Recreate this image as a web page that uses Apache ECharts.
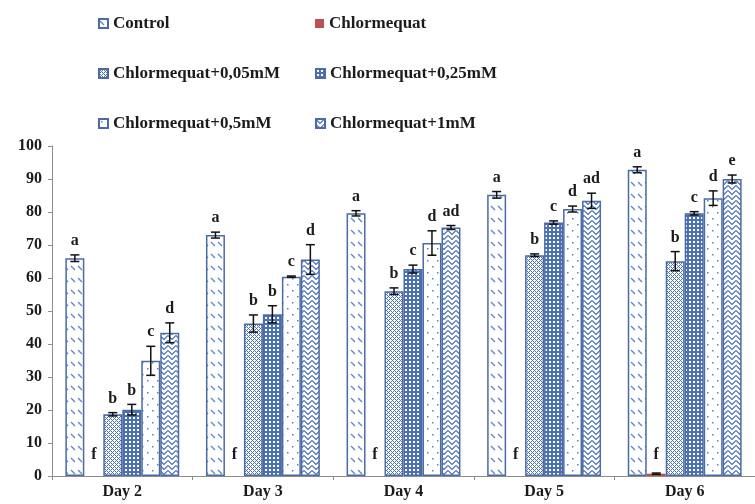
<!DOCTYPE html>
<html>
<head>
<meta charset="utf-8">
<script src="https://cdn.jsdelivr.net/npm/echarts@6/dist/echarts.min.js"></script>
<style>html,body{margin:0;padding:0;background:#fff}#c{width:755px;height:504px}</style>
</head>
<body>
<div id="c"></div>
<script>
const categories = ['Day 2', 'Day 3', 'Day 4', 'Day 5', 'Day 6'];
const seriesNames = ['Control', 'Chlormequat', 'Chlormequat+0,05mM', 'Chlormequat+0,25mM', 'Chlormequat+0,5mM', 'Chlormequat+1mM'];
const control = [66.0, 73.0, 79.6, 85.2, 92.8];
const chlormequat = [0, 0, 0, 0, 0.7];
const c005 = [18.7, 46.2, 56.0, 66.9, 65.1];
const c025 = [20.1, 49.0, 62.7, 76.8, 79.6];
const c05 = [34.9, 60.4, 70.6, 80.9, 84.2];
const c1 = [43.4, 65.6, 75.3, 83.4, 90.0];
const controlErr = [1.0, 0.9, 0.8, 1.0, 0.9];
const chlormequatErr = [0, 0, 0, 0, 0.2];
const c005Err = [0.5, 2.6, 1.0, 0.4, 2.9];
const c025Err = [1.6, 2.6, 1.2, 0.5, 0.5];
const c05Err = [4.4, 0.2, 3.7, 0.9, 2.2];
const c1Err = [3.0, 4.5, 0.6, 2.3, 1.2];
const controlLetters = ['a', 'a', 'a', 'a', 'a'];
const chlormequatLetters = ['f', 'f', 'f', 'f', 'f'];
const c005Letters = ['b', 'b', 'b', 'b', 'b'];
const c025Letters = ['b', 'b', 'c', 'c', 'c'];
const c05Letters = ['c', 'c', 'd', 'd', 'd'];
const c1Letters = ['d', 'd', 'ad', 'ad', 'e'];
const yTicks = [0, 10, 20, 30, 40, 50, 60, 70, 80, 90, 100];

const values = [control, chlormequat, c005, c025, c05, c1];
const errs = [controlErr, chlormequatErr, c005Err, c025Err, c05Err, c1Err];
const letters = [controlLetters, chlormequatLetters, c005Letters, c025Letters, c05Letters, c1Letters];

const BLUE = '#4d72b4';
const BORDER = '#4a6ba6';

function tile(w, h, draw) {
  const cv = document.createElement('canvas');
  cv.width = w; cv.height = h;
  const ctx = cv.getContext('2d');
  ctx.fillStyle = '#fff';
  ctx.fillRect(0, 0, w, h);
  draw(ctx);
  return {image: cv, repeat: 'repeat'};
}
const patterns = [
  tile(7, 12, ctx => { ctx.strokeStyle = '#5f83c6'; ctx.lineWidth = 1.2; ctx.beginPath(); ctx.moveTo(1, 2); ctx.lineTo(5, 6); ctx.stroke(); }),
  '#c0504d',
  tile(4, 4, ctx => { ctx.fillStyle = BLUE; ctx.fillRect(0, 0, 1, 1); ctx.fillRect(2, 2, 1, 1); ctx.fillRect(1, 1, 1, 1); ctx.fillRect(3, 3, 1, 1); ctx.fillRect(3, 1, 1, 1); ctx.fillRect(1, 3, 1, 1); }),
  tile(4, 4, ctx => { ctx.fillStyle = BLUE; ctx.fillRect(0, 0, 4, 4); ctx.fillStyle = '#fff'; ctx.fillRect(1, 1, 2, 2); }),
  tile(10, 12, ctx => { ctx.fillStyle = '#5a7fc0'; ctx.fillRect(2, 2, 1.5, 1.5); ctx.fillRect(7, 8, 1.5, 1.5); }),
  tile(8, 5, ctx => { ctx.strokeStyle = BLUE; ctx.lineWidth = 1.2; ctx.beginPath(); ctx.moveTo(0, 0.5); ctx.lineTo(4, 4.5); ctx.lineTo(8, 0.5); ctx.stroke(); })
];

const FONT = '"Liberation Serif", "Times New Roman", serif';
const TXT = '#1b1b1b';

const barSeries = seriesNames.map((name, i) => ({
  name: name,
  type: 'bar',
  barGap: '0%',
  barCategoryGap: '19%',
  data: values[i],
  itemStyle: {color: patterns[i], borderColor: i === 1 ? '#c0504d' : BORDER, borderWidth: i === 1 ? 0 : 1.5},
  emphasis: {disabled: true},
  z: 2
}));

const errData = [];
for (let s = 0; s < 6; s++) {
  for (let c = 0; c < categories.length; c++) {
    errData.push([c, values[s][c], errs[s][c], s, letters[s][c]]);
  }
}

const errSeries = {
  type: 'custom',
  name: 'err',
  data: errData,
  clip: false,
  silent: true,
  z: 5,
  encode: {x: 0, y: 1},
  renderItem: function (params, api) {
    const c = api.value(0), v = api.value(1), e = api.value(2), s = api.value(3);
    const letter = errData[params.dataIndex][4];
    const band = api.size([1, 0])[0];
    const bw = band * (1 - 0.19) / 6;
    const cx = api.coord([c, 0])[0] + (s - 2.5) * bw;
    const y0 = api.coord([c, 0])[1];
    const yTop = api.coord([c, v + e])[1];
    const yBot = api.coord([c, v - e])[1];
    const children = [];
    if (e > 0) {
      const st = {stroke: '#111', lineWidth: 1.5};
      children.push({type: 'line', shape: {x1: cx, y1: yTop, x2: cx, y2: yBot}, style: st});
      children.push({type: 'line', shape: {x1: cx - 4.5, y1: yTop, x2: cx + 4.5, y2: yTop}, style: st});
      children.push({type: 'line', shape: {x1: cx - 4.5, y1: yBot, x2: cx + 4.5, y2: yBot}, style: st});
    }
    const ly = (s === 1) ? y0 - 13 : yTop - 6;
    children.push({type: 'text', style: {text: letter, x: cx, y: ly, align: 'center', verticalAlign: 'bottom', fill: TXT, font: 'bold 16px ' + FONT}});
    return {type: 'group', children: children};
  }
};

const legendPos = [[98, 15], [315, 15], [98, 65], [315, 65], [98, 115], [315, 115]];
const legends = seriesNames.map((n, i) => ({
  data: [n],
  left: legendPos[i][0],
  top: legendPos[i][1],
  orient: 'horizontal',
  icon: 'rect',
  itemWidth: 9,
  itemHeight: 9,
  itemGap: 0,
  selectedMode: false,
  padding: 0,
  textStyle: {fontFamily: FONT, fontWeight: 'bold', fontSize: 17, color: TXT}
}));

const chart = echarts.init(document.getElementById('c'), null, {renderer: 'canvas'});
chart.setOption({
  animation: false,
  backgroundColor: '#fff',
  legend: legends,
  grid: {left: 52, right: -12, top: 146, bottom: 28, containLabel: false},
  xAxis: {
    type: 'category',
    data: categories,
    axisLine: {lineStyle: {color: '#8c8c8c', width: 1}},
    axisTick: {show: true, length: 4, lineStyle: {color: '#8c8c8c'}},
    axisLabel: {fontFamily: FONT, fontWeight: 'bold', fontSize: 16, color: TXT, margin: 8}
  },
  yAxis: {
    type: 'value',
    min: yTicks[0],
    max: yTicks[yTicks.length - 1],
    interval: 10,
    splitLine: {show: false},
    axisLine: {show: true, lineStyle: {color: '#8c8c8c', width: 1}},
    axisTick: {show: true, length: 4, lineStyle: {color: '#8c8c8c'}},
    axisLabel: {fontFamily: FONT, fontWeight: 'bold', fontSize: 16, color: TXT, margin: 10}
  },
  series: barSeries.concat([errSeries])
});
</script>
</body>
</html>
